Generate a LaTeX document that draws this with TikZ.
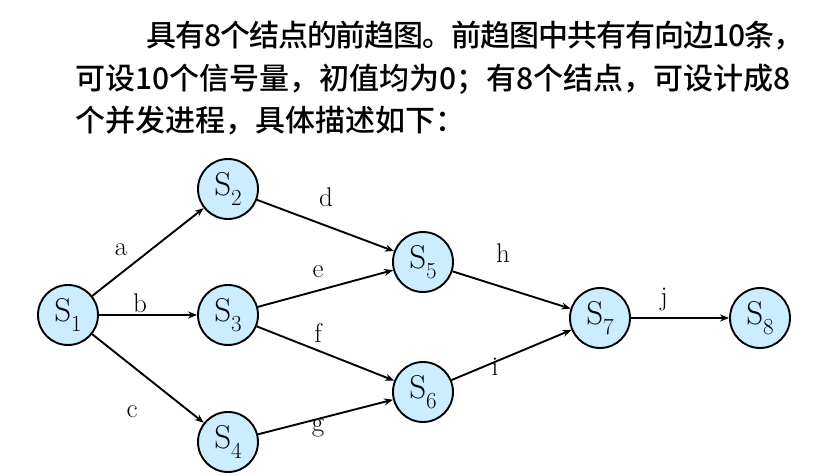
\documentclass[tikz,border=0pt]{standalone}
\usepackage{fontspec}
\usepackage{tikz}
\usetikzlibrary{arrows.meta,positioning}
\usepackage{xcolor}
\newfontfamily\cjk{Noto Sans CJK SC}[UprightFont={* Medium}]
\definecolor{nodeblue}{RGB}{204,236,255}
\newcommand{\sproc}[1]{S\raisebox{-0.3em}{\fontsize{23}{23}\selectfont #1}}

\begin{document}
\begin{tikzpicture}[x=1pt, y=-1pt,
    proc/.style={draw, circle, fill=nodeblue, line width=1.9pt,
                 minimum size=60pt, inner sep=0pt,
                 font=\fontsize{33}{33}\selectfont},
    flow/.style={-{Stealth[length=9pt,width=7pt]}, line width=1.9pt},
    lbl/.style={font=\fontsize{27}{27}\selectfont, inner sep=0pt},
    intro/.style={anchor=base west, inner sep=0pt,
                  font=\cjk\fontsize{30}{30}\selectfont}]
\useasboundingbox (0,0) rectangle (823,476);

% description text
\node[intro] (line1) at (146,47) {\addfontfeature{LetterSpace=-3.5}具有8个结点的前趋图。前趋图中共有有向边10条，};
\node[intro] (line2) at (75,90) {可设10个信号量，初值均为0；有8个结点，可设计成8};
\node[intro] (line3) at (75,132) {个并发进程，具体描述如下：};

% precedence graph
\node[proc] (s1) at (68,315) {\sproc{1}};
\node[proc] (s2) at (228,189) {\sproc{2}};
\node[proc] (s3) at (228,315) {\sproc{3}};
\node[proc] (s4) at (228,442) {\sproc{4}};
\node[proc] (s5) at (423,262) {\sproc{5}};
\node[proc] (s6) at (423,392) {\sproc{6}};
\node[proc] (s7) at (600,318) {\sproc{7}};
\node[proc] (s8) at (760,318) {\sproc{8}};

\draw[flow] (s1) -- (s2);
\draw[flow] (s1) -- (s3);
\draw[flow] (s1) -- (s4);
\draw[flow] (s2) -- (s5);
\draw[flow] (s3) -- (s5);
\draw[flow] (s3) -- (s6);
\draw[flow] (s4) -- (s6);
\draw[flow] (s5) -- (s7);
\draw[flow] (s6) -- (s7);
\draw[flow] (s7) -- (s8);

% edge labels
\node[lbl] (la) at (121,250) {a};
\node[lbl] (lb) at (140,303) {b};
\node[lbl] (lc) at (132,412) {c};
\node[lbl] (ld) at (326,197) {d};
\node[lbl] (le) at (318,272) {e};
\node[lbl] (lf) at (318,333) {f};
\node[lbl] (lg) at (318,428) {g};
\node[lbl] (lh) at (503,253) {h};
\node[lbl] (li) at (495,367) {i};
\node[lbl] (lj) at (664,300) {j};
\end{tikzpicture}
\end{document}
